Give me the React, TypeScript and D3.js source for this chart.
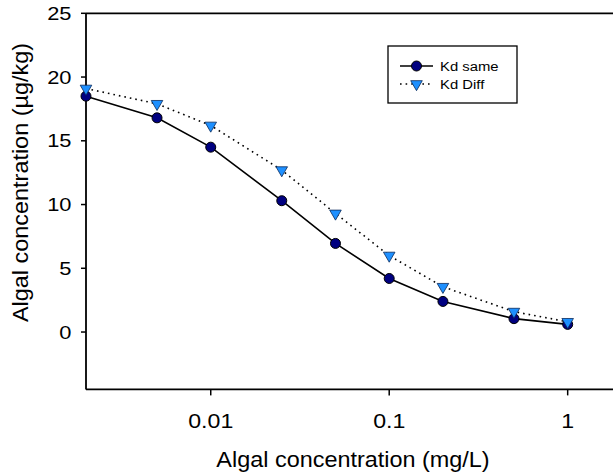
import React from "react";
import * as d3 from "d3";

const xValues = [0.002, 0.005, 0.01, 0.025, 0.05, 0.1, 0.2, 0.5, 1];
const kdSame = [18.5, 16.8, 14.5, 10.3, 6.95, 4.2, 2.4, 1.05, 0.6];
const kdDiff = [19.1, 17.9, 16.2, 12.7, 9.3, 6.0, 3.55, 1.6, 0.8];
const xTicks = [0.01, 0.1, 1];
const xTickLabels = ["0.01", "0.1", "1"];
const yTicks = [0, 5, 10, 15, 20, 25];
const seriesNames = ["Kd same", "Kd Diff"];

const W = 613;
const H = 476;
const FONT = "Arial, 'Liberation Sans', Helvetica, sans-serif";

export default function App() {
  const x = d3.scaleLog().domain([0.002, 2]).range([86, 621.4]);
  const y = d3.scaleLinear().domain([-4.5, 25]).range([389.4, 13.3]);
  const line = d3
    .line<number>()
    .x((_, i) => x(xValues[i]))
    .y((d) => y(d));
  const tri = d3.symbol().type(d3.symbolTriangle).size(58)();
  const left = x.range()[0];
  const right = W;
  const top = y(25);
  const bottom = y.range()[0];

  return (
    <svg
      width={W}
      height={H}
      style={{ position: "absolute", left: 0, top: 0, background: "#fff" }}
      fontFamily={FONT}
    >
      <rect x={0} y={0} width={W} height={H} fill="#fff" />
      {/* axes */}
      <line x1={left} x2={right} y1={top} y2={top} stroke="#000" strokeWidth={1.8} />
      <line x1={left} x2={right} y1={bottom} y2={bottom} stroke="#000" strokeWidth={1.8} />
      <line x1={left} x2={left} y1={top} y2={bottom} stroke="#000" strokeWidth={1.8} />
      {yTicks.map((t) => (
        <g key={"y" + t}>
          <line x1={left - 5} x2={left} y1={y(t)} y2={y(t)} stroke="#000" strokeWidth={1.5} />
          <text
            transform={`translate(71.5,${y(t)}) scale(1.15,1)`}
            dy="0.35em"
            textAnchor="end"
            fontSize={19}
            fill="#000"
          >
            {t}
          </text>
        </g>
      ))}
      {xTicks.map((t, i) => (
        <g key={"x" + t}>
          <line x1={x(t)} x2={x(t)} y1={bottom} y2={bottom + 6} stroke="#000" strokeWidth={1.5} />
          <text
            transform={`translate(${x(t)},427.5) scale(1.13,1)`}
            textAnchor="middle"
            fontSize={20.5}
            fill="#000"
          >
            {xTickLabels[i]}
          </text>
        </g>
      ))}
      <text transform="translate(353,466.5) scale(1.09,1)" textAnchor="middle" fontSize={21.5} fill="#000">
        Algal concentration (mg/L)
      </text>
      <text
        transform={`translate(28,182.5) rotate(-90) scale(1.09,1)`}
        textAnchor="middle"
        fontSize={21.5}
        fill="#000"
      >
        Algal concentration (µg/kg)
      </text>

      {/* series */}
      <path d={line(kdDiff) || ""} fill="none" stroke="#000" strokeWidth={1.6} strokeDasharray="1.6,4" />
      <path d={line(kdSame) || ""} fill="none" stroke="#000" strokeWidth={1.6} />
      {kdSame.map((v, i) => (
        <circle key={"c" + i} cx={x(xValues[i])} cy={y(v)} r={5} fill="#000080" stroke="#000" strokeWidth={1} />
      ))}
      {kdDiff.map((v, i) => (
        <path
          key={"t" + i}
          d={tri || ""}
          transform={`translate(${x(xValues[i])},${y(v)}) rotate(180)`}
          fill="#1E90FF"
          stroke="#0a2a5a"
          strokeWidth={0.8}
        />
      ))}

      {/* legend */}
      <rect x={388} y={46} width={129} height={57} fill="#fff" stroke="#000" strokeWidth={1.3} />
      <line x1={400} x2={433} y1={66} y2={66} stroke="#000" strokeWidth={1.5} />
      <circle cx={416.5} cy={66} r={5} fill="#000080" stroke="#000" strokeWidth={1} />
      <text transform="translate(440,66) scale(1.1,1)" dy="0.35em" fontSize={13.5} fill="#000">
        {seriesNames[0]}
      </text>
      <line x1={400} x2={433} y1={84} y2={84} stroke="#000" strokeWidth={1.5} strokeDasharray="1.6,4" />
      <path d={tri || ""} transform={`translate(416.5,84) rotate(180)`} fill="#1E90FF" stroke="#0a2a5a" strokeWidth={0.8} />
      <text transform="translate(440,84) scale(1.1,1)" dy="0.35em" fontSize={13.5} fill="#000">
        {seriesNames[1]}
      </text>
    </svg>
  );
}
